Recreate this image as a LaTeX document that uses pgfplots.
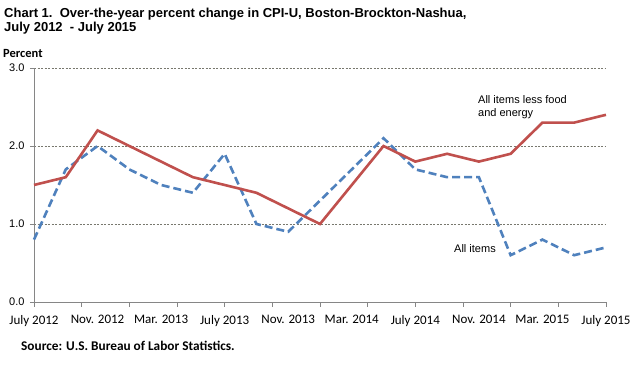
\documentclass[border=0pt]{standalone}
\usepackage{pgfplots}
\pgfplotsset{compat=1.18}
\usepackage{fontspec}
\setmainfont{Liberation Sans}
\newfontfamily\calibri{Carlito}
\definecolor{redline}{RGB}{192,80,77}
\definecolor{blueline}{RGB}{79,129,189}
\definecolor{gridc}{RGB}{120,120,110}
\definecolor{axc}{RGB}{134,134,134}
\pgfplotstableread{
x all core
0 0.8 1.5
2 1.7 1.6
4 2.0 2.2
6 1.7 2.0
8 1.5 1.8
10 1.4 1.6
12 1.9 1.5
14 1.0 1.4
16 0.9 1.2
18 1.3 1.0
20 1.7 1.5
22 2.1 2.0
24 1.7 1.8
26 1.6 1.9
28 1.6 1.8
30 0.6 1.9
32 0.8 2.3
34 0.6 2.3
36 0.7 2.4
}\datatable
\begin{document}
\begin{tikzpicture}[x=1pt,y=1pt]
\path[use as bounding box, fill=white] (0,0) rectangle (640,385);
\begin{axis}[at={(34pt,83pt)}, anchor=south west, scale only axis,
  width=572pt, height=234pt,
  xmin=0, xmax=36, ymin=0, ymax=3,
  axis x line*=bottom, axis y line*=left,
  axis line style={axc, line width=0.8pt},
  ytick={0,1,2,3}, yticklabels={0.0,1.0,2.0,3.0},
  y tick label style={font=\fontsize{11}{13}\selectfont, xshift=-2pt},
  ymajorgrids, grid style={gridc, dash pattern=on 2pt off 1.5pt, line width=0.6pt},
  xtick={0,4,...,36},
  xticklabels={July 2012,Nov. 2012,Mar. 2013,July 2013,Nov. 2013,Mar. 2014,July 2014,Nov. 2014,Mar. 2015,July 2015},
  x tick label style={font=\calibri\fontsize{13}{15}\selectfont, yshift=-6pt},
  minor xtick={0,3,...,36},
  major x tick style={draw=none},
  minor x tick style={axc, line width=0.8pt},
  major y tick style={axc, line width=0.8pt},
  tick align=outside, major tick length=4pt, minor tick length=5pt,
  clip=false,
]
\addplot[blueline, line width=2.6pt, dash pattern=on 8pt off 4pt] table[x=x, y=all] {\datatable};
\addplot[redline, line width=2.6pt] table[x=x, y=core] {\datatable};
\end{axis}
\node[anchor=base west, align=left, inner sep=0pt, font=\bfseries\fontsize{13}{14}\selectfont] at (4,367)
  {Chart 1.\ \ Over-the-year percent change in CPI-U, Boston-Brockton-Nashua,};
\node[anchor=base west, align=left, inner sep=0pt, font=\bfseries\fontsize{13}{14}\selectfont] at (4,353)
  {July 2012\ \ - July 2015};
\node[anchor=base west, inner sep=0pt, font=\calibri\bfseries\fontsize{12.5}{14}\selectfont] at (3,327.5) {Percent};
\node[anchor=north west, align=left, inner sep=0pt, font=\fontsize{11}{13}\selectfont] at (478,290)
  {All items less food\\and energy};
\node[anchor=west, inner sep=0pt, font=\fontsize{11}{13}\selectfont] at (454,136) {All items};
\node[anchor=base west, inner sep=0pt, font=\calibri\bfseries\fontsize{13.3}{15}\selectfont] at (21,34)
  {Source: U.S. Bureau of Labor Statistics.};
\end{tikzpicture}
\end{document}
